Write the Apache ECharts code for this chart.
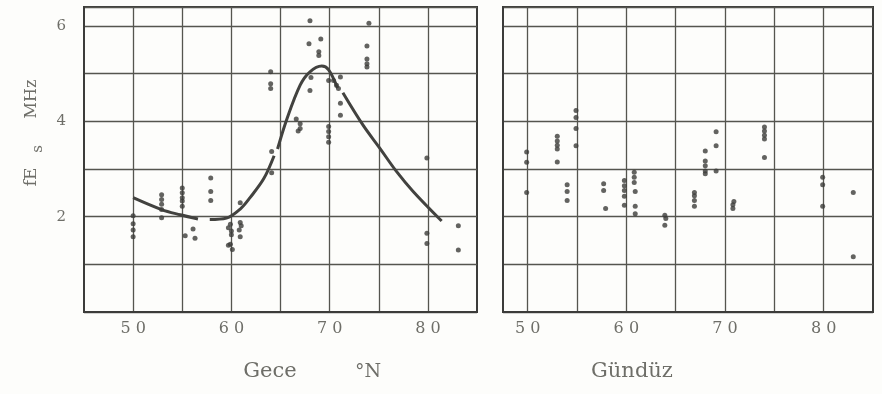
<!DOCTYPE html>
<html>
<head>
<meta charset="utf-8">
<script src="https://cdn.jsdelivr.net/npm/echarts@6/dist/echarts.min.js"></script>
<style>
  html, body { margin: 0; padding: 0; background: #fdfdfb; }
  #main { width: 882px; height: 394px; }
</style>
</head>
<body>
<div id="main"></div>
<script>
// fEs (MHz) against latitude (°N), night and day
var nightPoints = [
  [50, 2.02], [50, 1.85], [50, 1.72], [50, 1.58],
  [52.9, 2.46], [52.9, 2.36], [52.9, 2.26], [52.9, 2.15], [52.9, 1.98],
  [55, 2.6], [55, 2.5], [55, 2.4], [55, 2.33], [55, 2.22],
  [55.3, 1.6], [56.1, 1.74], [56.3, 1.55],
  [57.9, 2.81], [57.9, 2.53], [57.9, 2.34],
  [59.7, 1.77], [59.9, 1.84], [60, 1.7], [60, 1.62], [59.7, 1.4], [59.9, 1.42], [60.1, 1.31],
  [60.9, 2.29], [60.9, 1.88], [61, 1.81], [60.8, 1.72], [60.9, 1.58],
  [64, 5.04], [64, 4.79], [64, 4.69], [64.1, 3.37], [64.1, 2.92],
  [66.6, 4.05], [67, 3.95], [67, 3.85], [66.8, 3.8],
  [68, 6.11], [67.9, 5.63], [69.1, 5.73], [68.9, 5.46], [68.9, 5.38],
  [68.1, 4.92], [68, 4.65],
  [69.9, 4.86], [70.4, 4.86], [71.1, 4.93], [70.7, 4.76], [70.9, 4.69],
  [71.1, 4.38], [71.1, 4.13],
  [69.9, 3.89], [69.9, 3.79], [69.9, 3.68], [69.9, 3.56],
  [74, 6.06], [73.8, 5.58], [73.8, 5.31], [73.8, 5.21], [73.8, 5.14],
  [79.9, 3.23], [79.9, 1.65], [79.9, 1.44],
  [83.1, 1.81], [83.1, 1.3]
];
var nightCurve = [
  [50, 2.4], [52.9, 2.15], [54.8, 2.04], [56.6, 1.95], [57.2, null],
  [57.8, 1.94], [59.5, 1.97], [60.9, 2.16], [61.9, 2.4], [63.3, 2.8],
  [64.35, 3.28], [64.5, null], [64.7, 3.42], [65.6, 4.02], [67, 4.76], [68, 5.04],
  [69.2, 5.16], [69.9, 5.08], [70.8, 4.7], [71.05, null], [71.35, 4.6],
  [73.4, 3.92], [75.1, 3.44], [76.8, 2.95], [78.5, 2.53], [81.4, 1.91]
];
var dayPoints = [
  [49.9, 3.36], [49.9, 3.14], [49.9, 2.51],
  [53, 3.69], [53, 3.59], [53, 3.5], [53, 3.42], [53, 3.15],
  [54.9, 4.23], [54.9, 4.08], [54.9, 3.85], [54.9, 3.49],
  [54, 2.67], [54, 2.53], [54, 2.34],
  [57.7, 2.69], [57.7, 2.55], [57.9, 2.17],
  [59.8, 2.76], [59.8, 2.65], [59.8, 2.55], [59.8, 2.43], [59.8, 2.24],
  [60.8, 2.93], [60.8, 2.83], [60.8, 2.72], [60.9, 2.53], [60.9, 2.22], [60.9, 2.06],
  [63.9, 2.03], [64, 1.96], [63.9, 1.82],
  [66.9, 2.51], [66.9, 2.44], [66.9, 2.34], [66.9, 2.22],
  [68, 3.38], [68, 3.17], [68, 3.07], [68, 2.96], [68, 2.9],
  [69.1, 3.78], [69.1, 3.49], [69.1, 2.96],
  [70.9, 2.32], [70.8, 2.25], [70.8, 2.17],
  [74, 3.88], [74, 3.8], [74, 3.71], [74, 3.63], [74, 3.24],
  [79.9, 2.83], [79.9, 2.67], [79.9, 2.22],
  [83, 2.51], [83, 1.16]
];
var latTicks = [50, 55, 60, 65, 70, 75, 80];
var latLabels = [50, 60, 70, 80];
var fesLabels = [2, 4, 6];

var ink = '#3c3c3a';
var gridInk = '#55554f';
var textInk = '#6e6e68';
var font = 'DejaVu Serif';

function spaced(v) {
  return latLabels.indexOf(v) >= 0 ? String(v).split('').join(' ') : '';
}

function xAxisFor(idx, min) {
  return {
    type: 'value', gridIndex: idx, min: min, max: 85, interval: 5,
    axisLine: { show: true, onZero: false, lineStyle: { color: ink, width: 2 } },
    axisTick: { show: false, customValues: latTicks },
    axisLabel: {
      customValues: latLabels, formatter: spaced, margin: 9,
      color: textInk, fontFamily: font, fontSize: 16
    },
    splitLine: { show: true, lineStyle: { color: gridInk, width: 1.3 } }
  };
}

function yAxisFor(idx, labels) {
  return {
    type: 'value', gridIndex: idx, min: 0, max: 6.4, interval: 1,
    axisLine: { show: true, lineStyle: { color: ink, width: 2 } },
    axisTick: { show: false },
    axisLabel: {
      show: labels, margin: 18, color: textInk, fontFamily: font, fontSize: 15,
      formatter: function (v) { return fesLabels.indexOf(v) >= 0 ? v : ''; }
    },
    splitLine: { show: true, lineStyle: { color: gridInk, width: 1.3 } }
  };
}

var chart = echarts.init(document.getElementById('main'));
chart.setOption({
  backgroundColor: '#fdfdfb',
  animation: false,
  grid: [
    { left: 84, top: 7, width: 393, height: 305, show: true, borderColor: ink, borderWidth: 2 },
    { left: 503, top: 7, width: 370, height: 305, show: true, borderColor: ink, borderWidth: 2 }
  ],
  xAxis: [xAxisFor(0, 45), xAxisFor(1, 47.5)],
  yAxis: [yAxisFor(0, true), yAxisFor(1, false)],
  graphic: [
    { type: 'text', x: 32, y: 177, rotation: Math.PI / 2,
      style: { text: 'fE', fill: textInk, font: '17px "DejaVu Serif"', align: 'center', verticalAlign: 'middle' } },
    { type: 'text', x: 38, y: 149, rotation: Math.PI / 2,
      style: { text: 's', fill: textInk, font: '15px "DejaVu Serif"', align: 'center', verticalAlign: 'middle' } },
    { type: 'text', x: 32, y: 99, rotation: Math.PI / 2,
      style: { text: 'MHz', fill: textInk, font: '16px "DejaVu Serif"', align: 'center', verticalAlign: 'middle' } },
    { type: 'text', x: 270, y: 372,
      style: { text: 'Gece', fill: textInk, font: '21px "DejaVu Serif"', align: 'center', verticalAlign: 'middle' } },
    { type: 'text', x: 368, y: 372,
      style: { text: '°N', fill: textInk, font: '19px "DejaVu Serif"', align: 'center', verticalAlign: 'middle' } },
    { type: 'text', x: 632, y: 372,
      style: { text: 'Gündüz', fill: textInk, font: '21px "DejaVu Serif"', align: 'center', verticalAlign: 'middle' } }
  ],
  series: [
    {
      type: 'line', xAxisIndex: 0, yAxisIndex: 0, data: nightCurve,
      smooth: 0.35, showSymbol: false, connectNulls: false, z: 3,
      lineStyle: { color: '#42423f', width: 3 }
    },
    {
      type: 'scatter', xAxisIndex: 0, yAxisIndex: 0, data: nightPoints,
      symbolSize: 5, itemStyle: { color: ink }, z: 4
    },
    {
      type: 'scatter', xAxisIndex: 1, yAxisIndex: 1, data: dayPoints,
      symbolSize: 5, itemStyle: { color: ink }, z: 4
    }
  ]
});
</script>
</body>
</html>
